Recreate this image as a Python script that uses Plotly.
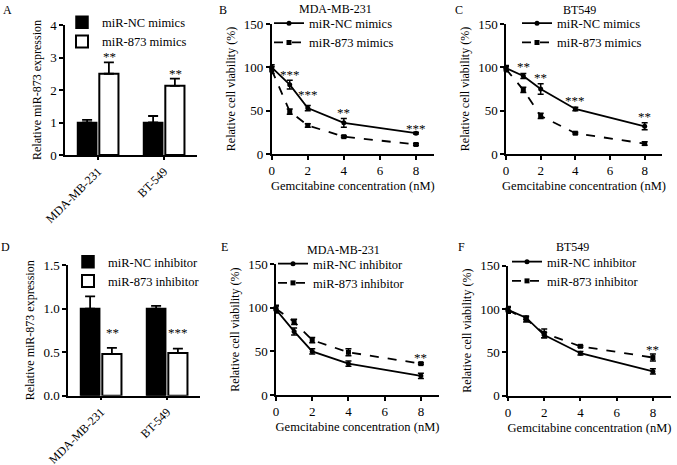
import plotly.graph_objects as go

W, H = 677, 465
FONT = "'Liberation Serif', 'Times New Roman', Times, serif"

# ---------------- data ----------------
cells = ["MDA-MB-231", "BT-549"]
conc = [0, 1, 2, 4, 8]

# A: mimics expression
a_nc = [1.0, 1.0]
a_nc_err = [0.08, 0.2]
a_mim = [2.5, 2.13]
a_mim_err = [0.35, 0.22]

# D: inhibitor expression
d_nc = [1.0, 1.0]
d_nc_err = [0.14, 0.03]
d_inh = [0.48, 0.49]
d_inh_err = [0.07, 0.05]

# B: MDA-MB-231 mimics viability
b_nc = [100, 80, 53, 36, 24]
b_nc_err = [3, 5, 3, 5, 1]
b_mim = [97, 49, 33, 20, 11]
b_mim_err = [4, 3, 2, 1, 1]

# C: BT549 mimics viability
c_nc = [99, 90, 75, 52, 32]
c_nc_err = [3, 3, 6, 2, 4]
c_mim = [98, 74, 44, 24, 12]
c_mim_err = [3, 3, 3, 1, 2]

# E: MDA-MB-231 inhibitor viability
e_nc = [98, 73, 50, 36, 22]
e_nc_err = [4, 4, 3, 3, 3]
e_inh = [99, 84, 63, 49, 36]
e_inh_err = [4, 3, 3, 4, 1]

# F: BT549 inhibitor viability
f_nc = [99, 90, 70, 49, 28]
f_nc_err = [3, 2, 3, 2, 3]
f_inh = [99, 88, 72, 57, 44]
f_inh_err = [4, 3, 5, 1, 4]

# significance marks: (x, y, text)
a_sig = [("MDA-MB-231", 3.08, "**"), ("BT-549", 2.56, "**")]
d_sig = [("MDA-MB-231", 0.754, "**"), ("BT-549", 0.754, "***")]
b_sig = [(1, 94, "***"), (2, 70.7, "***"), (4, 50.7, "**"), (8, 32.3, "***")]
c_sig = [(1, 103.8, "**"), (2, 91, "**"), (4, 64, "***"), (8, 45.8, "**")]
e_sig = [(8, 45, "**")]
f_sig = [(8, 55.8, "**")]

# ---------------- layout helpers ----------------
def px_dom_x(a, b):
    return [a / W, b / W]

def px_dom_y(top, bottom):
    return [1 - bottom / H, 1 - top / H]

panels = {
    1: dict(x=(65, 197), y=(25, 155)),
    2: dict(x=(271.7, 434), y=(24, 154)),
    3: dict(x=(506, 662), y=(24, 154)),
    4: dict(x=(68, 200), y=(265, 395.7)),
    5: dict(x=(276, 439), y=(264.3, 395)),
    6: dict(x=(508, 671), y=(265.7, 395.7)),
}

fig = go.Figure()

def bar_pair(i, nc, nc_err, tr, tr_err, names, legend):
    xa = "x" if i == 1 else f"x{i}"
    ya = "y" if i == 1 else f"y{i}"
    fig.add_trace(go.Bar(
        x=cells, y=nc, name=names[0], xaxis=xa, yaxis=ya, legend=legend,
        marker=dict(color="black", line=dict(color="black", width=1.5)),
        error_y=dict(type="data", array=nc_err, arrayminus=[0] * len(nc_err),
                     symmetric=False, color="black", thickness=1.8, width=5),
    ))
    fig.add_trace(go.Bar(
        x=cells, y=tr, name=names[1], xaxis=xa, yaxis=ya, legend=legend,
        marker=dict(color="white", line=dict(color="black", width=2)),
        error_y=dict(type="data", array=tr_err, arrayminus=[0] * len(tr_err),
                     symmetric=False, color="black", thickness=1.8, width=5),
    ))

def line_pair(i, nc, nc_err, tr, tr_err, names, legend):
    xa = f"x{i}"
    ya = f"y{i}"
    fig.add_trace(go.Scatter(
        x=conc, y=nc, name=names[0], xaxis=xa, yaxis=ya, legend=legend,
        mode="lines+markers", cliponaxis=False,
        line=dict(color="black", width=1.8),
        marker=dict(symbol="circle", size=5, color="black"),
        error_y=dict(type="data", array=nc_err, color="black", thickness=1.5, width=3),
    ))
    fig.add_trace(go.Scatter(
        x=conc, y=tr, name=names[1], xaxis=xa, yaxis=ya, legend=legend,
        mode="lines+markers", cliponaxis=False,
        line=dict(color="black", width=1.8, dash="dash"),
        marker=dict(symbol="square", size=5, color="black"),
        error_y=dict(type="data", array=tr_err, color="black", thickness=1.5, width=3),
    ))

bar_pair(1, a_nc, a_nc_err, a_mim, a_mim_err, ["miR-NC mimics", "miR-873 mimics"], "legend")
line_pair(2, b_nc, b_nc_err, b_mim, b_mim_err, ["miR-NC mimics", "miR-873 mimics"], "legend2")
line_pair(3, c_nc, c_nc_err, c_mim, c_mim_err, ["miR-NC mimics", "miR-873 mimics"], "legend3")
bar_pair(4, d_nc, d_nc_err, d_inh, d_inh_err, ["miR-NC inhibitor", "miR-873 inhibitor"], "legend4")
line_pair(5, e_nc, e_nc_err, e_inh, e_inh_err, ["miR-NC inhibitor", "miR-873 inhibitor"], "legend5")
line_pair(6, f_nc, f_nc_err, f_inh, f_inh_err, ["miR-NC inhibitor", "miR-873 inhibitor"], "legend6")

tick_font = dict(family=FONT, size=13, color="black")
title_font = dict(family=FONT, size=12, color="black")
axis_common = dict(showline=True, linecolor="black", linewidth=1.5, ticks="outside",
                   ticklen=4, tickwidth=1.5, tickcolor="black", showgrid=False,
                   zeroline=False, tickfont=tick_font, automargin=False)

layout = dict(
    width=W, height=H, margin=dict(l=0, r=0, t=0, b=0, autoexpand=False),
    paper_bgcolor="white", plot_bgcolor="white",
    font=dict(family=FONT, size=12, color="black"),
    barmode="group", bargap=0.34, bargroupgap=0.12,
)

for i, p in panels.items():
    xk = "xaxis" if i == 1 else f"xaxis{i}"
    yk = "yaxis" if i == 1 else f"yaxis{i}"
    anchor_x = "x" if i == 1 else f"x{i}"
    anchor_y = "y" if i == 1 else f"y{i}"
    xa = dict(axis_common, domain=px_dom_x(*p["x"]), anchor=anchor_y)
    ya = dict(axis_common, domain=px_dom_y(*p["y"]), anchor=anchor_x)
    if i in (1, 4):
        xa.update(tickangle=-45, range=[-0.5, 1.5], ticklen=3,
                  tickfont=dict(family=FONT, size=12, color="black"))
        if i == 1:
            ya.update(range=[0, 4], tickvals=[0, 1, 2, 3, 4])
        else:
            ya.update(range=[0, 1.5], tickvals=[0, 0.5, 1.0, 1.5], tickformat=".1f")
        ya.update(title=dict(text="Relative miR-873 expression", font=title_font, standoff=6))
    else:
        xa.update(range=[0, 9], tickvals=[0, 2, 4, 6, 8],
                  title=dict(text="Gemcitabine concentration (nM)",
                             font=dict(family=FONT, size=12.5, color="black"), standoff=4))
        ya.update(range=[0, 150], tickvals=[0, 50, 100, 150],
                  title=dict(text="Relative cell viability (%)", font=title_font, standoff=6))
    layout[xk] = xa
    layout[yk] = ya

# legends (left / top of legend box, px)
leg_pos = {
    "legend": (62, 7.5),
    "legend2": (269, 8.5),
    "legend3": (517, 8.5),
    "legend4": (68, 247),
    "legend5": (273, 249),
    "legend6": (507, 247),
}
for k, (lx, ly) in leg_pos.items():
    layout[k] = dict(x=lx / W, y=1 - ly / H, xanchor="left", yanchor="top",
                     bgcolor="rgba(0,0,0,0)", borderwidth=0, tracegroupgap=0,
                     font=dict(family=FONT, size=12.5, color="black"),
                     itemclick=False, itemdoubleclick=False)

fig.update_layout(**layout)

# annotations
ann = []
def star(i, sig, xshift=0):
    xr = "x" if i == 1 else f"x{i}"
    yr = "y" if i == 1 else f"y{i}"
    for xv, yv, t in sig:
        ann.append(dict(x=xv, y=yv, xref=xr, yref=yr, text=t, showarrow=False,
                        xanchor="center", yanchor="middle", yshift=-2, xshift=xshift,
                        font=dict(family=FONT, size=13, color="black")))

star(1, a_sig, xshift=11)
star(4, d_sig, xshift=11)
star(2, b_sig)
star(3, c_sig)
star(5, e_sig)
star(6, f_sig)

letters = [("A", 7, 10), ("B", 223, 10), ("C", 459, 10),
           ("D", 5, 247), ("E", 224, 247), ("F", 461, 247)]
for t, lx, ly in letters:
    ann.append(dict(x=lx / W, y=1 - ly / H, xref="paper", yref="paper", text=t,
                    showarrow=False, xanchor="center", yanchor="middle",
                    font=dict(family=FONT, size=12, color="black")))

titles = [("MDA-MB-231", 335, 9), ("BT549", 579, 10),
          ("MDA-MB-231", 343, 250), ("BT549", 572, 247)]
for t, lx, ly in titles:
    ann.append(dict(x=lx / W, y=1 - ly / H, xref="paper", yref="paper", text=t,
                    showarrow=False, xanchor="center", yanchor="middle",
                    font=dict(family=FONT, size=12, color="black")))

fig.update_layout(annotations=ann)

fig.write_html("out.html", config={"displayModeBar": False},
               post_script="document.body.style.margin='0px';")
